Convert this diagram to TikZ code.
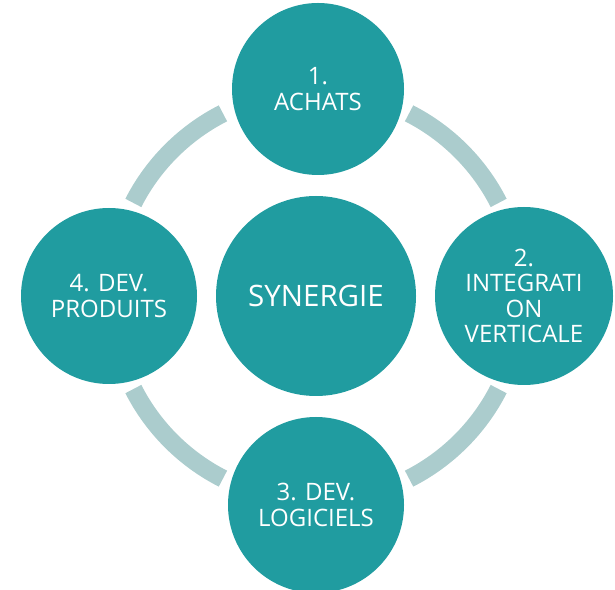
\documentclass[tikz,border=0pt]{standalone}
\usepackage{fontspec}
\setmainfont{Open Sans}
\usetikzlibrary{calc}
\definecolor{tealfill}{HTML}{209CA0}
\definecolor{ringc}{HTML}{ABCCCD}
\begin{document}
\begin{tikzpicture}[x=1pt,y=1pt,
  bubble/.style={circle, fill=tealfill, text=white, align=center, inner sep=0pt,
    minimum size=176pt, font=\fontsize{24}{25.5}\selectfont},
  hub/.style={circle, fill=tealfill, text=white, inner sep=0pt,
    minimum size=200pt, font=\fontsize{29.5}{32}\selectfont},
  ringarc/.style={draw=ringc, line width=18pt}]
\useasboundingbox (0,0) rectangle (615,589);
\coordinate (o) at (316,293);
\foreach \a in {27,117,207,297}
  \draw[ringarc] ($(o)+(\a:205pt)$) arc[start angle=\a, end angle=\a+36, radius=205pt];
\node[hub] (hub) at (o) {SYNERGIE};
\node[bubble, minimum size=172pt] (n1) at (318,500) {1.\\ACHATS};
\node[bubble, minimum size=178pt] (n2) at (524,293) {2.\\INTEGRATI\\ON\\VERTICALE};
\node[bubble] (n3) at (316,84) {3. DEV.\\LOGICIELS};
\node[bubble] (n4) at (109,293) {4. DEV.\\PRODUITS};
\end{tikzpicture}
\end{document}
